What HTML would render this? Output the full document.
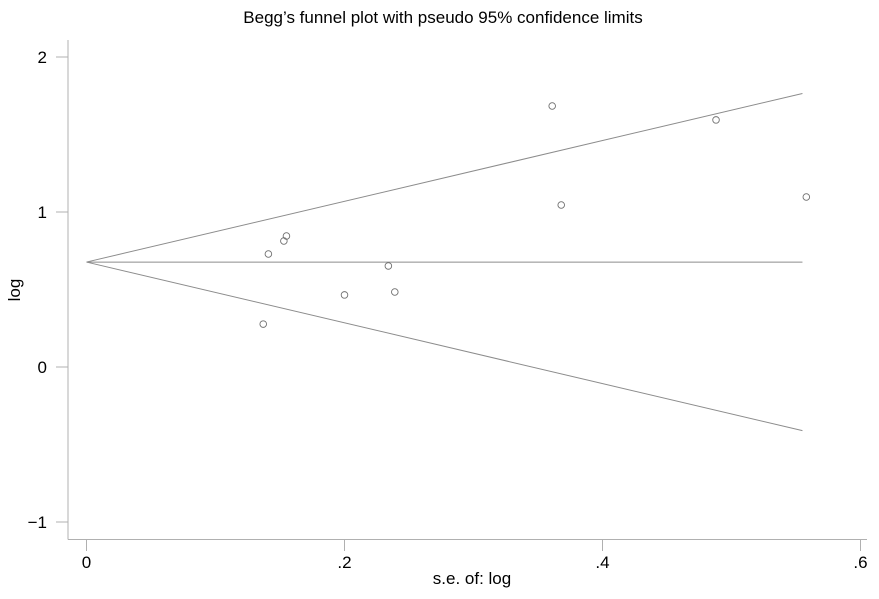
<!DOCTYPE html>
<html><head><meta charset="utf-8"><style>
body{margin:0;background:#fff;}
svg{display:block;font-family:"Liberation Sans",sans-serif;}
</style></head><body>
<svg id="chart" width="879" height="599">
<text x="443" y="23" font-size="17" text-anchor="middle" fill="#000">Begg’s funnel plot with pseudo 95% confidence limits</text>
<line x1="68" y1="40" x2="68" y2="539.5" stroke="#b0b0b0"/>
<line x1="68" y1="539.5" x2="867" y2="539.5" stroke="#b0b0b0"/>
<g id="yticks"></g><g id="xticks"></g><g id="lines"></g><g id="points"></g>
<text x="472" y="584" font-size="17" text-anchor="middle">s.e. of: log</text>
<text transform="translate(20,290) rotate(-90)" font-size="17" text-anchor="middle">log</text>
</svg>
<script>
const seValues=[0.137,0.141,0.153,0.155,0.200,0.234,0.239,0.361,0.368,0.488,0.558];
const logValues=[0.277,0.729,0.813,0.845,0.465,0.652,0.484,1.684,1.045,1.594,1.097];
const pooledEstimate=0.677;
const maxSe=0.555;
const xTicks=[0,0.2,0.4,0.6];
const xTickLabels=["0",".2",".4",".6"];
const yTicks=[-1,0,1,2];
const yTickLabels=["\u22121","0","1","2"];
const NS="http://www.w3.org/2000/svg";
function sx(v){return 86.5+v*1290;}
function sy(v){return 367-v*155;}
function mk(tag,attrs,parent){const e=document.createElementNS(NS,tag);for(const k in attrs)e.setAttribute(k,attrs[k]);document.getElementById(parent).appendChild(e);return e;}
yTicks.forEach((t,i)=>{
  const l=mk('line',{x1:56,x2:68,y1:sy(t),y2:sy(t),stroke:'#b0b0b0'},'yticks');
  
  
  const tx=mk('text',{x:47,y:sy(t)+6,'font-size':17,'text-anchor':'end'},'yticks');
  tx.textContent=yTickLabels[i];
  
  
});
xTicks.forEach((t,i)=>{
  const l=mk('line',{x1:sx(t),x2:sx(t),y1:539.5,y2:551,stroke:'#b0b0b0'},'xticks');
  
  
  const tx=mk('text',{x:sx(t),y:568,'font-size':17,'text-anchor':'middle'},'xticks');
  tx.textContent=xTickLabels[i];
  
  
});
const lineDefs=[["pooled-estimate-line",0],["upper-confidence-limit",1.96],["lower-confidence-limit",-1.96]];
lineDefs.forEach(d=>{
  const l=mk('line',{x1:sx(0),y1:sy(pooledEstimate),x2:sx(maxSe),y2:sy(pooledEstimate+d[1]*maxSe),stroke:'#8c8c8c','stroke-width':1},'lines');
  
  
});
seValues.forEach((s,i)=>{
  const c=mk('circle',{cx:sx(s),cy:sy(logValues[i]),r:3.3,fill:'none',stroke:'#707070','stroke-width':0.9},'points');
  
  
});
</script>
</body></html>
